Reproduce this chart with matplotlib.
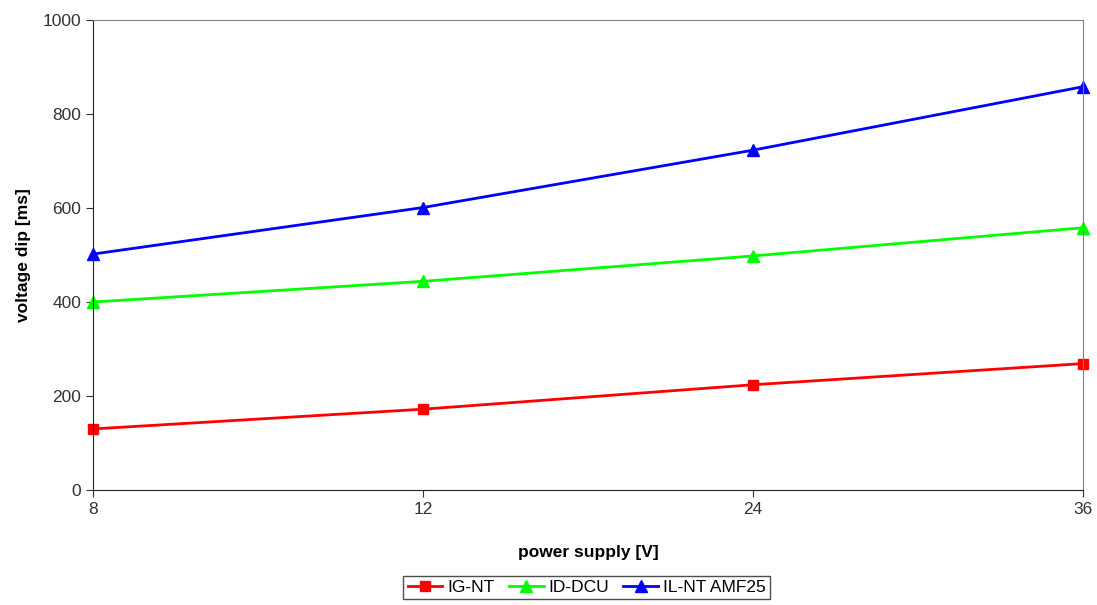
import matplotlib
matplotlib.use('Agg')
import matplotlib.pyplot as plt

plt.rcParams['font.family'] = ['Liberation Sans', 'DejaVu Sans']

#categories on the x axis (equally spaced)
supply = ['8', '12', '24', '36']

#voltage dip values (ms)
ig_nt = [130, 172, 224, 269]
id_dcu = [400, 444, 498, 558]
il_nt_amf25 = [502, 601, 723, 858]

fig = plt.figure(figsize=(10.97, 6.05), dpi=100)
ax = fig.add_axes([0.0848, 0.19, 0.9024, 0.777])

x = range(len(supply))
ax.plot(x, ig_nt, color='#ff0000', marker='s', markersize=7, linewidth=2, label='IG-NT', clip_on=False)
ax.plot(x, id_dcu, color='#00ff00', marker='^', markersize=8, linewidth=2, label='ID-DCU', clip_on=False)
ax.plot(x, il_nt_amf25, color='#0000ff', marker='^', markersize=8, linewidth=2, label='IL-NT AMF25', clip_on=False)

ax.set_xlim(0, len(supply) - 1)
ax.set_ylim(0, 1000)
ax.set_xticks(list(x))
ax.set_xticklabels(supply)
ax.set_yticks([0, 200, 400, 600, 800, 1000])
ax.tick_params(axis='both', labelsize=12.5, colors='#333333', length=5, direction='out')
for side in ['top', 'right']:
    ax.spines[side].set_color('#808080')
for side in ['left', 'bottom']:
    ax.spines[side].set_color('#222222')

ax.set_xlabel('power supply [V]', fontsize=12.5, fontweight='bold', labelpad=20)
ax.set_ylabel('voltage dip [ms]', fontsize=12.5, fontweight='bold', labelpad=8)

leg = fig.legend(loc='lower center', bbox_to_anchor=(0.535, -0.005), ncol=3, fontsize=12.5,
                 frameon=True, fancybox=False, edgecolor='#222222', handlelength=2.0,
                 handletextpad=0.3, columnspacing=0.8, borderpad=0.25)
leg.get_frame().set_linewidth(1.0)

fig.savefig('out.png', dpi=100)
